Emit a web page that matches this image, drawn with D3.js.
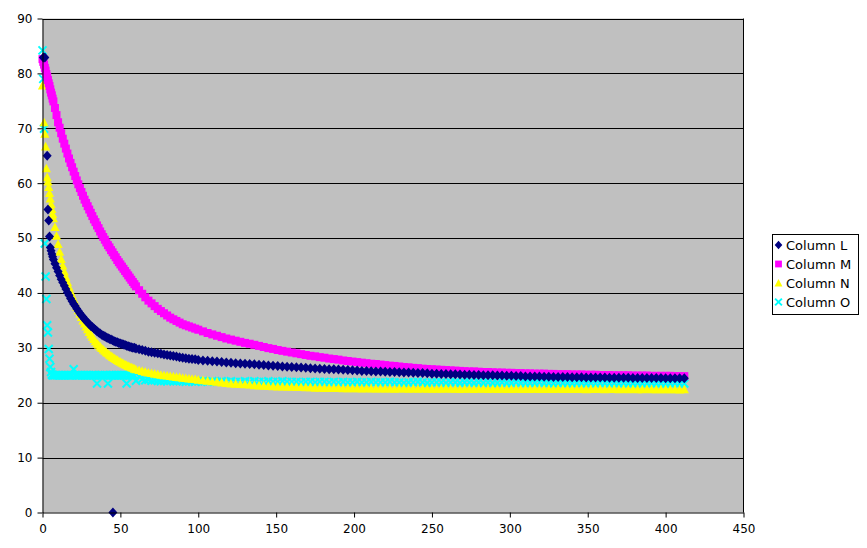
<!DOCTYPE html>
<html><head><meta charset="utf-8">
<script src="https://cdn.jsdelivr.net/npm/d3@7"></script>
<style>html,body{margin:0;padding:0;background:#fff;}svg{display:block;font-family:"DejaVu Sans",sans-serif;}</style>
</head><body>
<svg id="chart" width="867" height="548"></svg>
<script>
const xTicks = [0,50,100,150,200,250,300,350,400,450];
const yTicks = [0,10,20,30,40,50,60,70,80,90];
const seriesNames = ["Column L","Column M","Column N","Column O"];

const xValues = [0,0.5,1,1.5,2,2.5,3,3.5,4,4.5,5,5.5,6,6.5,7,
8,9,10,11,12,13,14,15,16,17,18,19,20,21,22,23,24,25,26,27,28,29,30,31,32,33,34,35,36,37,38,39,40,41,42,43,44,45,46,47,48,49,50,51,52,53,54,55,56,57,58,59,60,
62,64,66,68,70,72,74,76,78,80,82,84,86,88,90,92,94,96,98,100,
103,106,109,112,115,118,121,124,127,130,133,136,139,142,145,148,151,154,157,160,163,166,169,172,175,178,181,184,187,190,
193,196,199,202,205,208,211,214,217,220,223,226,229,232,235,238,241,244,247,250,253,256,259,262,265,268,271,274,277,280,
283,286,289,292,295,298,301,304,307,310,313,316,319,322,325,328,331,334,337,340,343,346,349,352,355,358,361,364,367,370,
373,376,379,382,385,388,391,394,397,400,403,406,409,412];

const columnL = [null,82.9,null,82.9,null,null,65.0,55.2,53.2,50.3,48.3,47.7,47.1,46.6,46.1,
45.3,44.6,43.9,43.2,42.5,41.9,41.3,40.7,40.1,39.6,
39.0,38.5,38.0,37.6,37.1,36.7,36.3,35.9,35.6,35.2,
34.9,34.6,34.3,34.0,33.8,33.5,33.3,33.0,32.8,32.6,
32.4,32.2,32.1,31.9,31.8,31.6,31.5,31.4,31.2,31.1,
31.0,30.9,30.8,30.7,30.6,30.5,30.4,30.3,30.2,30.1,
30.0,30.0,29.9,
29.75,29.6,29.45,29.3,29.2,29.1,29.0,28.9,28.8,28.7,28.6,28.5,28.4,28.3,28.2,28.1,28.0,27.95,27.9,27.8,
27.7,27.65,27.55,27.5,27.4,27.35,27.3,27.2,27.15,27.1,
27.05,27.0,26.9,26.85,26.8,26.75,26.7,26.6,26.55,26.5,
26.45,26.4,26.35,26.3,26.25,26.2,26.15,26.1,26.1,26.05,
26.0,25.95,25.9,25.85,25.8,25.8,25.75,25.7,25.7,25.65,
25.6,25.6,25.55,25.5,25.5,25.45,25.4,25.4,25.35,25.3,
25.3,25.25,25.25,25.2,25.2,25.15,25.1,25.1,25.05,25.05,
25.0,25.0,25.0,24.95,24.95,24.9,24.9,24.85,24.85,24.8,
24.8,24.8,24.8,24.75,24.75,24.7,24.7,24.7,24.7,24.65,
24.65,24.65,24.6,24.6,24.6,24.6,24.6,24.55,24.55,24.55,
24.55,24.55,24.5,24.5,24.5,24.5,24.5,24.5,24.5,24.45,
24.45,24.45,24.45,24.45];

const columnM = [82.6,82.1,81.6,81.0,80.5,79.9,79.4,78.8,78.2,77.7,77.1,76.5,76.0,75.4,74.9,
73.7,72.4,71.1,70.1,69.1,68.1,67.2,66.3,65.4,64.5,
63.7,62.9,62.1,61.3,60.5,59.8,59.1,58.4,57.7,57.0,
56.4,55.8,55.2,54.6,54.0,53.4,52.9,52.3,51.8,51.2,
50.7,50.2,49.7,49.2,48.7,48.3,47.8,47.4,46.9,46.5,
46.0,45.6,45.2,44.8,44.4,44.0,43.6,43.2,42.8,42.4,
42.0,41.6,41.2,
40.5,39.85,39.2,38.6,38.1,37.6,37.1,36.7,36.3,35.9,35.5,35.2,34.9,34.6,34.3,34.1,33.9,33.7,33.5,33.3,
33.0,32.7,32.45,32.2,31.95,31.7,31.5,31.3,31.1,30.9,
30.75,30.55,30.35,30.15,29.95,29.8,29.6,29.45,29.3,29.15,
29.0,28.85,28.7,28.55,28.45,28.3,28.2,28.05,27.95,27.85,
27.7,27.6,27.5,27.4,27.3,27.2,27.1,27.05,26.95,26.85,
26.75,26.7,26.6,26.5,26.45,26.35,26.3,26.2,26.15,26.1,
26.05,26.0,25.95,25.9,25.85,25.8,25.75,25.7,25.7,25.65,
25.6,25.6,25.55,25.5,25.5,25.45,25.45,25.4,25.4,25.35,
25.35,25.3,25.3,25.3,25.25,25.25,25.2,25.2,25.2,25.15,
25.15,25.15,25.1,25.1,25.1,25.05,25.05,25.05,25.0,25.0,
25.0,25.0,24.95,24.95,24.95,24.95,24.9,24.9,24.9,24.9,
24.9,24.85,24.85,24.85];

const columnN = [77.8,null,71.1,69.0,66.7,62.7,61.1,60.3,59.3,58.2,57.2,56.2,55.3,54.4,53.6,
52.0,50.4,48.9,47.5,46.2,45.0,43.9,42.9,42.0,41.1,
40.3,39.6,38.9,38.2,37.5,36.85,36.2,35.6,35.0,34.45,
33.9,33.4,32.9,32.45,32.0,31.6,31.2,30.85,30.55,30.25,
29.95,29.7,29.45,29.2,29.0,28.75,28.55,28.35,28.15,27.95,
27.8,27.6,27.45,27.3,27.15,27.0,26.85,26.7,26.6,26.45,
26.35,26.2,26.1,
25.95,25.8,25.65,25.5,25.4,25.3,25.2,25.1,25.0,24.95,24.85,24.8,24.7,24.65,24.55,24.5,24.4,24.35,24.3,24.2,
24.1,24.0,23.9,23.8,23.7,23.6,23.5,23.45,23.4,23.35,
23.3,23.2,23.15,23.1,23.05,23.0,22.95,22.95,22.9,22.9,
22.85,22.85,22.8,22.8,22.75,22.75,22.7,22.7,22.7,22.7,
22.65,22.65,22.65,22.65,22.6,22.65,22.6,22.6,22.6,22.6,
22.6,22.55,22.6,22.6,22.55,22.6,22.55,22.6,22.55,22.55,
22.55,22.55,22.6,22.55,22.55,22.5,22.55,22.55,22.5,22.55,
22.55,22.5,22.55,22.5,22.55,22.5,22.5,22.55,22.5,22.5,
22.5,22.55,22.5,22.5,22.5,22.5,22.55,22.5,22.5,22.5,
22.5,22.5,22.45,22.5,22.5,22.5,22.45,22.5,22.5,22.45,
22.5,22.45,22.5,22.45,22.45,22.5,22.45,22.45,22.45,22.45,
22.45,22.45,22.4,22.45];

const columnO = [84.2,79.0,69.9,49.0,43.0,38.9,34.1,32.8,29.8,28.0,26.5,25.6,25.1,25.0,25.0,
25.0,25.0,25.0,25.0,25.0,25.0,25.0,25.0,25.0,25.0,
25.0,25.0,26.1,25.0,25.0,25.0,25.0,25.0,25.0,25.0,
25.0,25.0,25.0,25.0,25.0,25.0,25.0,23.5,25.0,25.0,
25.0,25.0,25.0,25.0,23.5,25.0,25.0,25.0,25.0,25.0,
25.0,25.0,25.0,25.0,25.0,25.0,23.5,25.0,25.0,25.0,
25.0,24.9,24.0,
24.8,24.3,24.1,24.2,24.0,24.1,24.0,23.9,24.0,23.9,24.0,23.9,23.9,24.0,23.9,23.8,23.9,23.9,23.8,23.9,
23.9,23.8,23.9,23.8,23.9,23.8,23.9,23.8,23.8,23.9,
23.8,23.9,23.8,23.8,23.9,23.8,23.8,23.9,23.8,23.8,
23.8,23.7,23.8,23.8,23.7,23.8,23.8,23.7,23.8,23.7,
23.8,23.7,23.7,23.8,23.7,23.7,23.8,23.7,23.7,23.7,
23.8,23.7,23.7,23.6,23.7,23.7,23.8,23.7,23.6,23.7,
23.7,23.7,23.6,23.7,23.7,23.6,23.7,23.7,23.6,23.7,
23.6,23.7,23.6,23.6,23.7,23.6,23.6,23.7,23.6,23.6,
23.6,23.6,23.7,23.6,23.6,23.5,23.6,23.6,23.6,23.5,
23.6,23.6,23.5,23.6,23.5,23.6,23.6,23.5,23.6,23.5,
23.6,23.5,23.5,23.6,23.5,23.5,23.6,23.5,23.5,23.5,
23.5,23.6,23.5,23.5];

const outlierLX = [45.2];
const outlierLY = [0];

const colors = ["#000080","#FF00FF","#FFFF00","#00FFFF"];
const shapes = ["diamond","square","triangle","cross"];

const svg = d3.select("#chart");
const x = d3.scaleLinear().domain([0,450]).range([42.5,743.5]);
const y = d3.scaleLinear().domain([0,90]).range([512.5,18.5]);

svg.append("rect").attr("x",x(0)).attr("y",y(90)).attr("width",x(450)-x(0)).attr("height",y(0)-y(90)).attr("fill","#C0C0C0");
svg.append("g").selectAll("line").data(yTicks.filter(d=>d>0)).join("line")
  .attr("x1",x(0)).attr("x2",x(450)).attr("y1",d=>Math.round(y(d))+0.5).attr("y2",d=>Math.round(y(d))+0.5)
  .attr("stroke","#000").attr("stroke-width",1);
svg.append("line").attr("x1",x(450)).attr("x2",x(450)).attr("y1",y(90)).attr("y2",y(0)).attr("stroke","#000");

function markerPath(shape, s){
  if(shape==="diamond") return `M0,${-5*s}L${4.5*s},0L0,${5*s}L${-4.5*s},0Z`;
  if(shape==="square") return `M${-4*s},${-4*s}H${4*s}V${4*s}H${-4*s}Z`;
  if(shape==="triangle") return `M0,${-4.6*s}L${4.6*s},${4*s}H${-4.6*s}Z`;
  return `M${-4*s},${-4*s}L${4*s},${4*s}M${4*s},${-4*s}L${-4*s},${4*s}`;
}
function drawMarker(sel, i){
  if(shapes[i]==="cross"){
    sel.attr("fill","none").attr("stroke",colors[i]).attr("stroke-width",2);
  } else {
    sel.attr("fill",colors[i]).attr("stroke","none");
  }
}

const allSeries = [columnL,columnM,columnN,columnO];
const plotG = svg.append("g");
[3,2,1,0].forEach(i=>{
  const pts = xValues.map((xv,k)=>({x:xv,y:allSeries[i][k]})).filter(d=>d.y!==null);
  if(i===0) outlierLX.forEach((xv,k)=>pts.push({x:xv,y:outlierLY[k]}));
  plotG.append("g").selectAll("path").data(pts).join("path")
    .attr("d",markerPath(shapes[i],1))
    .attr("transform",d=>`translate(${x(d.x)},${y(d.y)})`)
    .call(drawMarker,i);
});

const yAxis = d3.axisLeft(y).tickValues(yTicks).tickSize(5).tickSizeOuter(0).tickPadding(5);
const xAxis = d3.axisBottom(x).tickValues(xTicks).tickSize(5).tickSizeOuter(0).tickPadding(7);
const gy = svg.append("g").attr("transform",`translate(${x(0)},0)`).call(yAxis);
const gx = svg.append("g").attr("transform",`translate(0,${y(0)})`).call(xAxis);
[gx,gy].forEach(g=>{
  g.selectAll("path,line").attr("stroke","#000");
  g.selectAll("text").attr("fill","#000").style("font-size","12px").style("font-family","DejaVu Sans");
});

const lg = svg.append("g");
lg.append("rect").attr("x",772.5).attr("y",234.5).attr("width",86).attr("height",80).attr("fill","#fff").attr("stroke","#000");
seriesNames.forEach((name,i)=>{
  const cy = 245 + i*19;
  lg.append("path").attr("d",markerPath(shapes[i],0.85)).attr("transform",`translate(778.5,${cy})`).call(drawMarker,i);
  lg.append("text").attr("x",786).attr("y",cy).attr("dy","0.36em").text(name)
    .style("font-size","13px").attr("fill","#000");
});
</script>
</body></html>
